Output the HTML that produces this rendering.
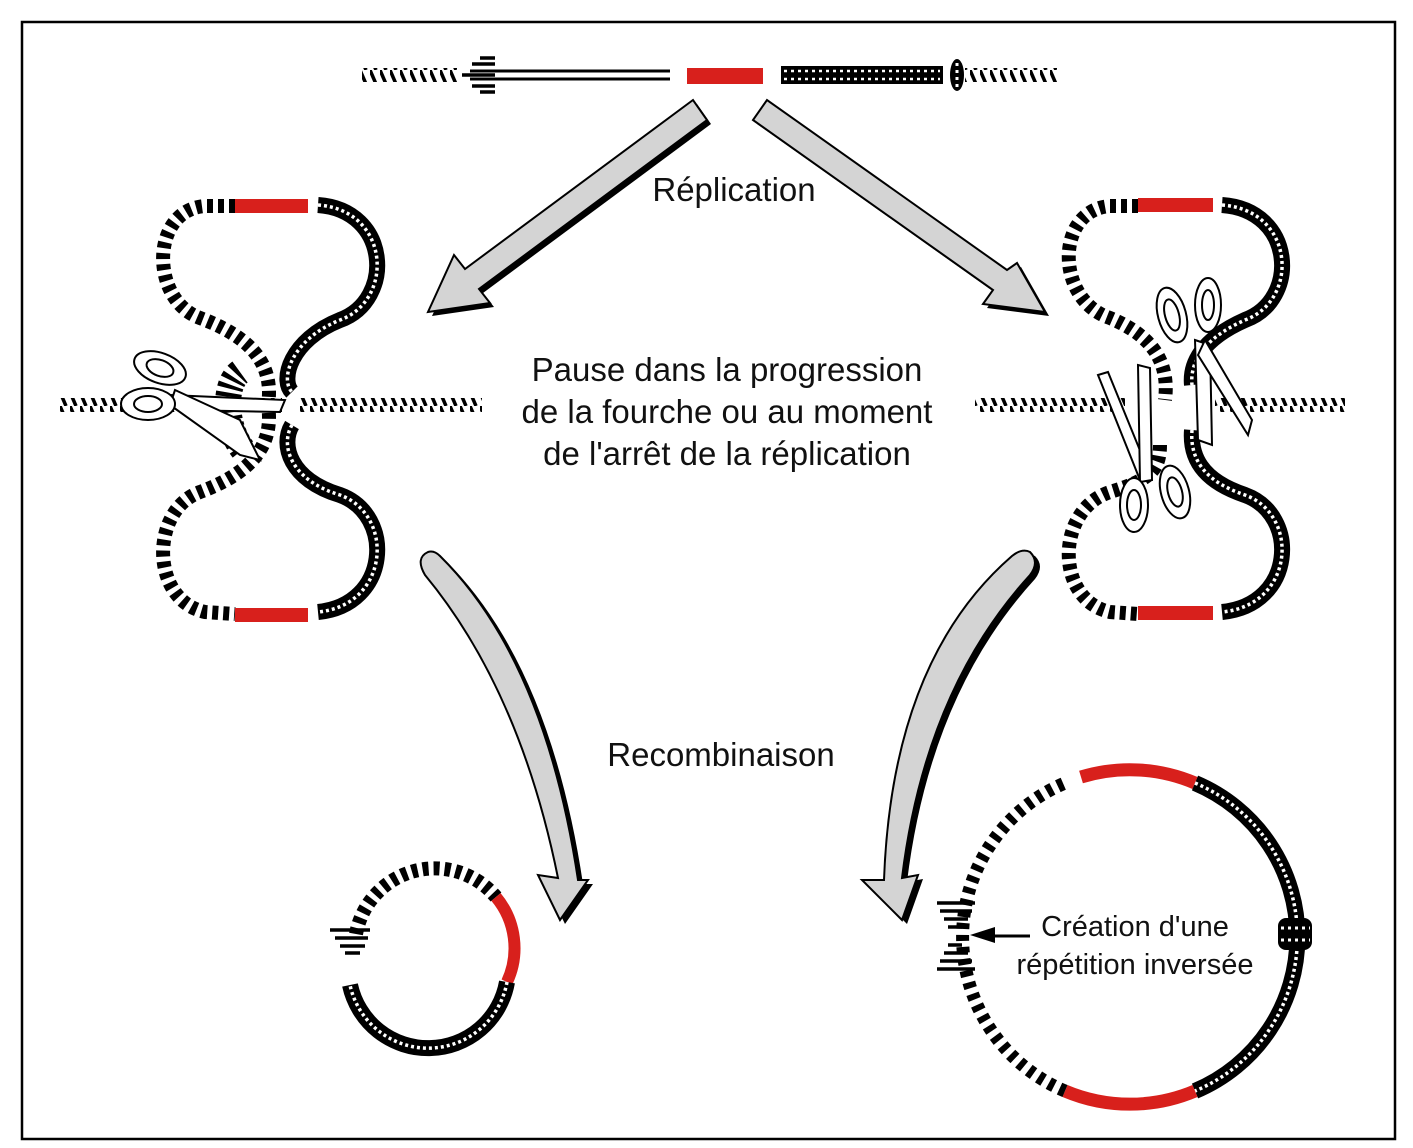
<!DOCTYPE html>
<html><head><meta charset="utf-8">
<style>
html,body{margin:0;padding:0;background:#fff;}
svg{display:block;}
text{font-family:"Liberation Sans",Arial,sans-serif;fill:#111;}
</style></head>
<body>
<svg width="1413" height="1148" viewBox="0 0 1413 1148" xmlns="http://www.w3.org/2000/svg">
<defs>
<pattern id="hatch" width="10" height="14" patternUnits="userSpaceOnUse">
<line x1="0" y1="0" x2="6" y2="14" stroke="#000" stroke-width="3.5"/>
</pattern>
</defs>
<rect x="0" y="0" width="1413" height="1148" fill="#fff"/>
<rect x="22" y="22" width="1373" height="1117" fill="none" stroke="#000" stroke-width="2.5"/>

<!-- Top line -->
<rect x="362" y="68" width="95" height="14" fill="url(#hatch)"/>
<line x1="470" y1="71" x2="670" y2="71" stroke="#000" stroke-width="3"/>
<line x1="470" y1="79" x2="670" y2="79" stroke="#000" stroke-width="3"/>
<g stroke="#000" stroke-width="3.5">
<line x1="480" y1="58" x2="495" y2="58"/><line x1="472" y1="64" x2="495" y2="64"/>
<line x1="462" y1="75" x2="495" y2="75"/><line x1="472" y1="86" x2="495" y2="86"/>
<line x1="480" y1="92" x2="495" y2="92"/>
</g>
<rect x="687" y="68" width="76" height="16" fill="#d8201c"/>
<rect x="781" y="66" width="162" height="18" fill="#000"/>
<line x1="784" y1="71" x2="940" y2="71" stroke="#fff" stroke-width="2.5" stroke-dasharray="3 4"/>
<line x1="784" y1="79" x2="940" y2="79" stroke="#fff" stroke-width="2.5" stroke-dasharray="3 4"/>
<ellipse cx="957" cy="75" rx="7" ry="16" fill="#000"/>
<line x1="957" y1="63" x2="957" y2="90" stroke="#fff" stroke-width="3" stroke-dasharray="3 4"/>
<rect x="965" y="68" width="92" height="14" fill="url(#hatch)"/>

<!-- Straight arrows -->
<polygon transform="translate(4,4)" points="707,120 479,289 490,303 428,312 454,255 465,269 693,100" fill="#000"/>
<polygon points="707,120 479,289 490,303 428,312 454,255 465,269 693,100" fill="#d4d4d4" stroke="#000" stroke-width="2"/>
<polygon transform="translate(4,4)" points="753,120 993,290 983,304 1045,312 1017,263 1007,270 767,100" fill="#000"/>
<polygon points="753,120 993,290 983,304 1045,312 1017,263 1007,270 767,100" fill="#d4d4d4" stroke="#000" stroke-width="2"/>

<!-- Curved arrows -->
<g transform="translate(5,4)" fill="#000">
<path d="M428,552 Q415,558 425,575 Q520,690 558,878 L538,875 L560,920 L588,880 L578,880 Q545,660 440,556 Q434,550 428,552 Z"/>
<path d="M1030,552 Q1040,562 1030,575 Q925,690 902,878 L918,875 L902,920 L862,880 L884,880 Q892,660 1012,556 Q1022,548 1030,552 Z"/>
</g>
<path d="M428,552 Q415,558 425,575 Q520,690 558,878 L538,875 L560,920 L588,880 L578,880 Q545,660 440,556 Q434,550 428,552 Z" fill="#d4d4d4" stroke="#000" stroke-width="2"/>
<path d="M1030,552 Q1040,562 1030,575 Q925,690 902,878 L918,875 L902,920 L862,880 L884,880 Q892,660 1012,556 Q1022,548 1030,552 Z" fill="#d4d4d4" stroke="#000" stroke-width="2"/>

<!-- Left bubble -->
<rect x="60" y="398" width="222" height="14" fill="url(#hatch)"/>
<rect x="300" y="398" width="182" height="14" fill="url(#hatch)"/>
<path d="M235,206 L205,206 C150,210 150,300 200,318 C245,335 275,360 268,405 C275,450 245,475 200,492 C150,510 150,600 205,612 L235,614" fill="none" stroke="#000" stroke-width="14" stroke-dasharray="6 5"/>
<path d="M240,372 C222,385 225,430 245,452" fill="none" stroke="#000" stroke-width="26" stroke-dasharray="4 4"/>
<path d="M318,205 C390,210 395,300 340,320 C290,340 280,380 292,392" fill="none" stroke="#000" stroke-width="16"/>
<path d="M318,205 C390,210 395,300 340,320 C290,340 280,380 292,392" fill="none" stroke="#fff" stroke-width="3.5" stroke-dasharray="3 3"/>
<path d="M292,425 C280,445 290,480 340,495 C395,515 390,605 318,612" fill="none" stroke="#000" stroke-width="16"/>
<path d="M292,425 C280,445 290,480 340,495 C395,515 390,605 318,612" fill="none" stroke="#fff" stroke-width="3.5" stroke-dasharray="3 3"/>
<rect x="235" y="199" width="73" height="14" fill="#d8201c"/>
<rect x="235" y="608" width="73" height="14" fill="#d8201c"/>
<g fill="#fff" stroke="#000" stroke-width="2">
<polygon points="170,395 285,400 280,412 180,410"/>
<polygon points="175,390 240,420 260,460 240,455 170,405"/>
<ellipse cx="160" cy="368" rx="27" ry="15" transform="rotate(20 160 368)"/>
<ellipse cx="160" cy="368" rx="14" ry="8" transform="rotate(20 160 368)"/>
<ellipse cx="148" cy="404" rx="27" ry="16"/>
<ellipse cx="148" cy="404" rx="14" ry="8"/>
</g>

<!-- Right bubble -->
<rect x="975" y="398" width="150" height="14" fill="url(#hatch)"/>
<rect x="1215" y="398" width="130" height="14" fill="url(#hatch)"/>
<path d="M1138,206 L1110,206 C1055,210 1055,300 1110,318 C1150,335 1170,360 1165,400" fill="none" stroke="#000" stroke-width="14" stroke-dasharray="6 5"/>
<path d="M1160,445 C1160,470 1150,480 1110,492 C1055,510 1055,600 1110,612 L1138,614" fill="none" stroke="#000" stroke-width="14" stroke-dasharray="6 5"/>
<path d="M1222,205 C1295,210 1300,300 1245,320 C1200,340 1190,365 1192,385" fill="none" stroke="#000" stroke-width="16"/>
<path d="M1222,205 C1295,210 1300,300 1245,320 C1200,340 1190,365 1192,385" fill="none" stroke="#fff" stroke-width="3.5" stroke-dasharray="3 3"/>
<path d="M1192,430 C1190,455 1200,480 1245,495 C1300,515 1295,605 1222,612" fill="none" stroke="#000" stroke-width="16"/>
<path d="M1192,430 C1190,455 1200,480 1245,495 C1300,515 1295,605 1222,612" fill="none" stroke="#fff" stroke-width="3.5" stroke-dasharray="3 3"/>
<rect x="1138" y="198" width="75" height="14" fill="#d8201c"/>
<rect x="1138" y="606" width="75" height="14" fill="#d8201c"/>
<g fill="#fff" stroke="#000" stroke-width="2">
<polygon points="1195,340 1210,345 1212,445 1198,440"/>
<polygon points="1205,340 1252,420 1248,435 1198,355"/>
<ellipse cx="1172" cy="315" rx="14" ry="28" transform="rotate(-15 1172 315)"/>
<ellipse cx="1172" cy="315" rx="7" ry="16" transform="rotate(-15 1172 315)"/>
<ellipse cx="1208" cy="305" rx="13" ry="27"/>
<ellipse cx="1208" cy="305" rx="6" ry="15"/>
<polygon points="1098,375 1108,372 1150,475 1140,480"/>
<polygon points="1138,365 1150,368 1152,480 1140,482"/>
<ellipse cx="1134" cy="505" rx="14" ry="27"/>
<ellipse cx="1134" cy="505" rx="7" ry="15"/>
<ellipse cx="1175" cy="492" rx="14" ry="27" transform="rotate(-15 1175 492)"/>
<ellipse cx="1175" cy="492" rx="7" ry="15" transform="rotate(-15 1175 492)"/>
</g>

<!-- Small circle -->
<path d="M356,934 A80,80 0 0 1 496,897" fill="none" stroke="#000" stroke-width="14" stroke-dasharray="6 5"/>
<path d="M496,897 A80,80 0 0 1 507,982" fill="none" stroke="#d8201c" stroke-width="12"/>
<path d="M507,982 A80,80 0 0 1 350,985" fill="none" stroke="#000" stroke-width="16"/>
<path d="M507,982 A80,80 0 0 1 350,985" fill="none" stroke="#fff" stroke-width="3.5" stroke-dasharray="3 3"/>
<g stroke="#000" stroke-width="3.5">
<line x1="330" y1="930" x2="370" y2="930"/><line x1="335" y1="938" x2="368" y2="938"/>
<line x1="340" y1="946" x2="365" y2="946"/><line x1="345" y1="953" x2="360" y2="953"/>
</g>

<!-- Big circle -->
<path d="M1081,777 A167,167 0 0 1 1195,783" fill="none" stroke="#d8201c" stroke-width="13"/>
<path d="M1195,783 A167,167 0 0 1 1195,1091" fill="none" stroke="#000" stroke-width="16"/>
<path d="M1195,783 A167,167 0 0 1 1195,1091" fill="none" stroke="#fff" stroke-width="3.5" stroke-dasharray="3 3"/>
<path d="M1195,1091 A167,167 0 0 1 1065,1091" fill="none" stroke="#d8201c" stroke-width="13"/>
<path d="M1065,1091 A167,167 0 0 1 1065,783" fill="none" stroke="#000" stroke-width="13" stroke-dasharray="6 6"/>
<g stroke="#000" stroke-width="3.5">
<line x1="937" y1="903" x2="975" y2="903"/><line x1="940" y1="911" x2="972" y2="911"/>
<line x1="944" y1="919" x2="968" y2="919"/><line x1="948" y1="927" x2="962" y2="927"/>
<line x1="948" y1="945" x2="962" y2="945"/><line x1="944" y1="953" x2="968" y2="953"/>
<line x1="940" y1="961" x2="972" y2="961"/><line x1="937" y1="969" x2="975" y2="969"/>
</g>
<rect x="1278" y="918" width="34" height="32" rx="8" fill="#000"/>
<line x1="1281" y1="928" x2="1310" y2="928" stroke="#fff" stroke-width="3" stroke-dasharray="3 4"/>
<line x1="1281" y1="940" x2="1310" y2="940" stroke="#fff" stroke-width="3" stroke-dasharray="3 4"/>
<polygon points="970,935 995,927 995,943" fill="#000"/>
<line x1="995" y1="936" x2="1030" y2="936" stroke="#000" stroke-width="3"/>

<!-- Text -->
<text x="734" y="201" font-size="33" text-anchor="middle">Réplication</text>
<text x="727" y="381" font-size="33" text-anchor="middle">Pause dans la progression</text>
<text x="727" y="423" font-size="33" text-anchor="middle">de la fourche ou au moment</text>
<text x="727" y="465" font-size="33" text-anchor="middle">de l'arrêt de la réplication</text>
<text x="721" y="766" font-size="33" text-anchor="middle">Recombinaison</text>
<text x="1135" y="936" font-size="29" text-anchor="middle">Création d'une</text>
<text x="1135" y="974" font-size="29" text-anchor="middle">répétition inversée</text>
</svg>
</body></html>
